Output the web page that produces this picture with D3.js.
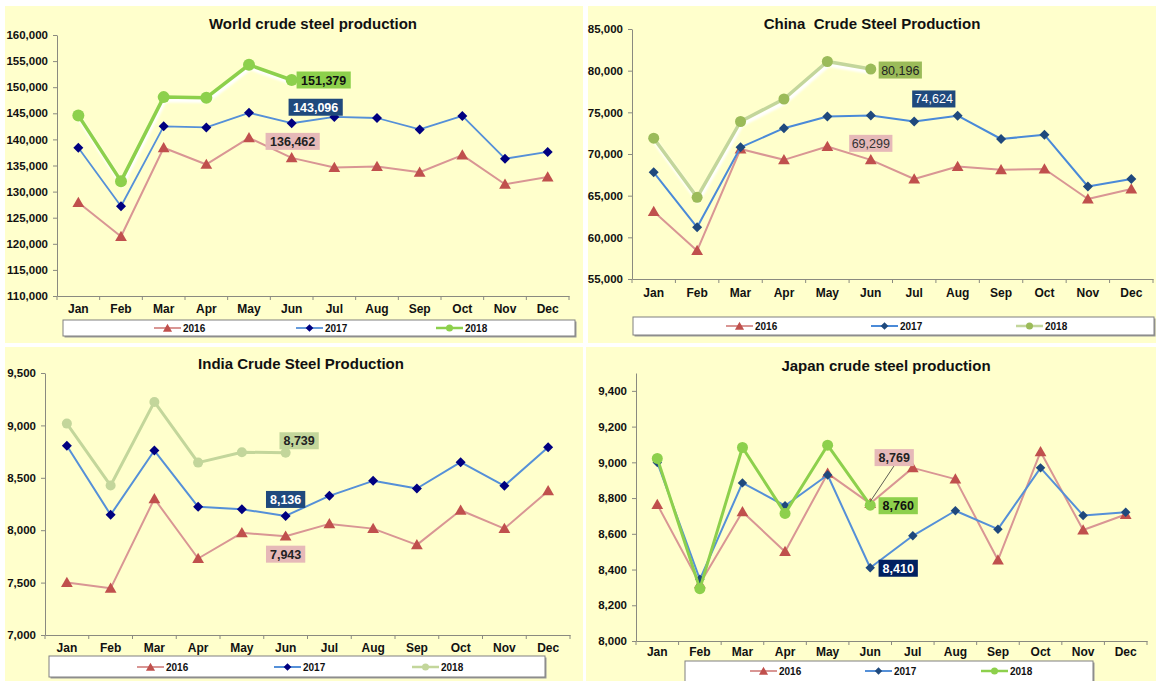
<!DOCTYPE html>
<html>
<head>
<meta charset="utf-8">
<script src="https://cdn.jsdelivr.net/npm/d3@7"></script>
<style>
  body { margin: 0; background: #fff; }
  text { font-family: "Liberation Sans", Arial, sans-serif; }
</style>
</head>
<body>
<svg id="chart" width="1156" height="681"></svg>
<script>
const months = ["Jan", "Feb", "Mar", "Apr", "May", "Jun", "Jul", "Aug", "Sep", "Oct", "Nov", "Dec"];
const years = ["2016", "2017", "2018"];

// World
const worldTicks = [110000, 115000, 120000, 125000, 130000, 135000, 140000, 145000, 150000, 155000, 160000];
const world2016 = [127900, 121400, 138400, 135200, 140300, 136462, 134600, 134800, 133700, 137000, 131400, 132800];
const world2017 = [138400, 127200, 142500, 142300, 145100, 143096, 144300, 144100, 141900, 144500, 136300, 137600];
const world2018 = [144600, 132000, 148100, 148000, 154300, 151379];

// China
const chinaTicks = [55000, 60000, 65000, 70000, 75000, 80000, 85000];
const china2016 = [63100, 58400, 70600, 69300, 70900, 69299, 67000, 68500, 68100, 68200, 64600, 65800];
const china2017 = [67800, 61200, 70800, 73100, 74500, 74624, 73900, 74600, 71800, 72300, 66100, 67000];
const china2018 = [71900, 64800, 73900, 76600, 81100, 80196];

// India
const indiaTicks = [7000, 7500, 8000, 8500, 9000, 9500];
const india2016 = [7500, 7445, 8300, 7730, 7975, 7943, 8060, 8015, 7860, 8190, 8015, 8375];
const india2017 = [8805, 8147, 8760, 8223, 8200, 8136, 8328, 8471, 8398, 8649, 8423, 8792];
const india2018 = [9017, 8426, 9224, 8645, 8744, 8739];

// Japan
const japanTicks = [8000, 8200, 8400, 8600, 8800, 9000, 9200, 9400];
const japan2016 = [8764, 8320, 8723, 8500, 8938, 8769, 8969, 8906, 8453, 9059, 8621, 8708];
const japan2017 = [8999, 8345, 8885, 8757, 8929, 8410, 8589, 8729, 8626, 8969, 8703, 8721];
const japan2018 = [9022, 8293, 9083, 8714, 9096, 8760];

const svg = d3.select("#chart");
const fmt = d3.format(",");

const defs = svg.append("defs");
defs.append("filter").attr("id", "soft")
  .append("feGaussianBlur").attr("stdDeviation", 1.2);

const pink = "#d99694", red = "#c0504d", blue = "#5590d8";

function marker(g, type, cx, cy, size, fill) {
  if (type === "circle") {
    g.append("circle").attr("cx", cx).attr("cy", cy).attr("r", size).attr("fill", fill);
  } else if (type === "diamond") {
    g.append("path").attr("d", d3.symbol(d3.symbolSquare, size)())
      .attr("transform", `translate(${cx},${cy}) rotate(45)`).attr("fill", fill);
  } else {
    g.append("path").attr("d", d3.symbol(d3.symbolTriangle, size)())
      .attr("transform", `translate(${cx},${cy + 1})`).attr("fill", fill);
  }
}

function drawPanel(p) {
  const g = svg.append("g");
  g.append("rect").attr("x", p.bg[0]).attr("y", p.bg[1])
    .attr("width", p.bg[2]).attr("height", p.bg[3]).attr("fill", "#ffffcc");

  const x = d3.scaleBand().domain(months).range([p.x0, p.x1]);
  const y = d3.scaleLinear().domain(p.domain).range([p.yBottom, p.yTop]);
  const cx = i => x(months[i]) + x.bandwidth() / 2;

  // y axis
  const ya = g.append("g").attr("transform", `translate(${p.x0},0)`)
    .call(d3.axisLeft(y).tickValues(p.ticks).tickFormat(fmt).tickSize(4).tickSizeOuter(0).tickPadding(5));
  ya.select(".domain").attr("stroke", "#8a8a80");
  ya.selectAll(".tick line").attr("stroke", "#8a8a80");
  ya.selectAll("text").attr("font-size", 11.5).attr("font-weight", "bold").attr("fill", "#111")
    .attr("font-family", "Liberation Sans, Arial, sans-serif");

  // x axis, ticks sit on the band edges
  const xa = g.append("g").attr("transform", `translate(0,${p.yBottom})`)
    .call(d3.axisBottom(x).tickSize(0).tickPadding(p.xPad));
  xa.select(".domain").attr("stroke", "#8a8a80");
  xa.selectAll("text").attr("font-size", 12).attr("font-weight", "bold").attr("fill", "#111")
    .attr("font-family", "Liberation Sans, Arial, sans-serif");
  d3.range(13).forEach(i => {
    const xx = p.x0 + i * x.step();
    xa.append("line").attr("x1", xx).attr("x2", xx).attr("y1", 0).attr("y2", 4).attr("stroke", "#8a8a80");
  });

  // title
  g.append("text").attr("x", p.titleX).attr("y", p.titleY).attr("text-anchor", "middle")
    .attr("font-size", 15).attr("font-weight", "bold").attr("fill", "#111")
    .attr("xml:space", "preserve").text(p.title);

  const line = d3.line();
  p.series.forEach(s => {
    const pts = s.values.map((v, i) => [cx(i), y(v)]);
    if (s.glow) {
      g.append("path").attr("d", line(pts)).attr("transform", "translate(1,3)")
        .attr("fill", "none").attr("stroke", "#fff").attr("stroke-width", s.width + 1)
        .attr("filter", "url(#soft)");
    }
    g.append("path").attr("d", line(pts)).attr("fill", "none")
      .attr("stroke", s.stroke).attr("stroke-width", s.width).attr("stroke-linejoin", "round");
    pts.forEach(pt => marker(g, s.type, pt[0], pt[1], s.size, s.fill));
  });

  // callouts on June values
  p.labels.forEach(l => {
    const s = p.series[l.s];
    const px = cx(5), py = y(s.values[5]);
    const lx = px + l.dx, ly = py + l.dy;
    if (l.leader) {
      g.append("line").attr("x1", lx).attr("y1", ly + 8).attr("x2", px).attr("y2", py - 2)
        .attr("stroke", "#333").attr("stroke-width", 0.8);
    }
    const lg = g.append("g");
    const rect = lg.append("rect").attr("fill", l.fill);
    const t = lg.append("text").attr("x", lx).attr("y", ly + 4.5).attr("text-anchor", "middle")
      .attr("font-size", 12.5).attr("font-weight", p.labelWeight).attr("fill", l.color)
      .text(fmt(s.values[5]));
    const w = t.node().getComputedTextLength() + p.labelPad;
    rect.attr("x", lx - w / 2).attr("y", ly - 8.5).attr("width", w).attr("height", 17);
  });

  // legend
  g.append("rect").attr("x", p.legend[0] + 1.5).attr("y", p.legend[1] + 1.5)
    .attr("width", p.legend[2]).attr("height", p.legend[3]).attr("fill", "#9a9a9a");
  g.append("rect").attr("x", p.legend[0]).attr("y", p.legend[1])
    .attr("width", p.legend[2]).attr("height", p.legend[3])
    .attr("fill", "#fff").attr("stroke", "#808080").attr("stroke-width", 1);
  p.series.forEach((s, i) => {
    const lx = p.legendX[i], ly = p.legendY;
    g.append("line").attr("x1", lx).attr("x2", lx + 27).attr("y1", ly).attr("y2", ly)
      .attr("stroke", s.stroke).attr("stroke-width", Math.min(s.width, 2.5));
    marker(g, s.type, lx + 13.5, ly, s.type === "circle" ? 3.5 : s.size * 0.6, s.fill);
    g.append("text").attr("x", lx + 29).attr("y", ly + 3.5).attr("font-size", 10)
      .attr("font-weight", "bold").attr("fill", "#111").text(years[i]);
  });
}

drawPanel({
  bg: [5, 6, 578, 337], x0: 57, x1: 569, yTop: 35, yBottom: 296, domain: [110000, 160000],
  ticks: worldTicks, xPad: 8, title: "World crude steel production", titleX: 313, titleY: 29,
  series: [
    { values: world2016, stroke: pink, fill: red, width: 2, type: "triangle", size: 60 },
    { values: world2017, stroke: blue, fill: "#000080", width: 1.8, type: "diamond", size: 50 },
    { values: world2018, stroke: "#8dd04c", fill: "#8dd04c", width: 3.5, type: "circle", size: 6, glow: true }
  ],
  labels: [
    { s: 2, dx: 32, dy: 0, fill: "#8dd04c", color: "#111" },
    { s: 1, dx: 24, dy: -16, fill: "#1f497d", color: "#fff" },
    { s: 0, dx: 1, dy: -16.5, fill: "#e6b9b8", color: "#222" }
  ],
  labelWeight: "bold", labelPad: 9,
  legend: [63, 320, 512, 16], legendX: [154, 296, 436], legendY: 328
});

drawPanel({
  bg: [588, 6, 568, 337], x0: 632, x1: 1153, yTop: 29, yBottom: 279, domain: [55000, 85000],
  ticks: chinaTicks, xPad: 9, title: "China  Crude Steel Production", titleX: 872, titleY: 29,
  series: [
    { values: china2016, stroke: pink, fill: red, width: 2, type: "triangle", size: 60 },
    { values: china2017, stroke: "#4a8ad8", fill: "#1f497d", width: 2, type: "diamond", size: 50 },
    { values: china2018, stroke: "#c3d69b", fill: "#9bbb59", width: 3.5, type: "circle", size: 5.5, glow: true }
  ],
  labels: [
    { s: 2, dx: 29.5, dy: 1, fill: "#9bbb59", color: "#222" },
    { s: 1, dx: 63, dy: -16.5, fill: "#1f497d", color: "#fff" },
    { s: 0, dx: 0, dy: -16.5, fill: "#e6b9b8", color: "#333" }
  ],
  labelWeight: "normal", labelPad: 5,
  legend: [633, 317, 521, 18], legendX: [726, 871, 1016], legendY: 326
});

drawPanel({
  bg: [5, 347, 578, 334], x0: 45, x1: 570, yTop: 373, yBottom: 635, domain: [7000, 9500],
  ticks: indiaTicks, xPad: 8, title: "India Crude Steel Production", titleX: 301, titleY: 369,
  series: [
    { values: india2016, stroke: pink, fill: red, width: 2, type: "triangle", size: 60 },
    { values: india2017, stroke: blue, fill: "#000080", width: 2, type: "diamond", size: 50 },
    { values: india2018, stroke: "#c3d69b", fill: "#c3d69b", width: 3, type: "circle", size: 5 }
  ],
  labels: [
    { s: 2, dx: 13.5, dy: -12, fill: "#c3d69b", color: "#222" },
    { s: 1, dx: 0, dy: -16.5, fill: "#1f497d", color: "#fff" },
    { s: 0, dx: 0, dy: 18, fill: "#e6b9b8", color: "#222" }
  ],
  labelWeight: "bold", labelPad: 8,
  legend: [49, 656, 496, 21], legendX: [137, 274, 412], legendY: 667
});

drawPanel({
  bg: [586, 347, 570, 334], x0: 636, x1: 1147, yTop: 373, yBottom: 641, domain: [8000, 9500],
  ticks: japanTicks, xPad: 6, title: "Japan crude steel production", titleX: 886, titleY: 371,
  series: [
    { values: japan2016, stroke: pink, fill: red, width: 2, type: "triangle", size: 60 },
    { values: japan2017, stroke: blue, fill: "#1f497d", width: 2, type: "diamond", size: 45 },
    { values: japan2018, stroke: "#8dd04c", fill: "#8dd04c", width: 3, type: "circle", size: 5.5 }
  ],
  labels: [
    { s: 0, dx: 24, dy: -46, fill: "#e6b9b8", color: "#222", leader: true },
    { s: 2, dx: 28, dy: 0.5, fill: "#8dd04c", color: "#111" },
    { s: 1, dx: 28, dy: 0.5, fill: "#002060", color: "#fff" }
  ],
  labelWeight: "bold", labelPad: 8,
  legend: [685, 661, 408, 24], legendX: [750, 865, 981], legendY: 671
});
</script>
</body>
</html>
